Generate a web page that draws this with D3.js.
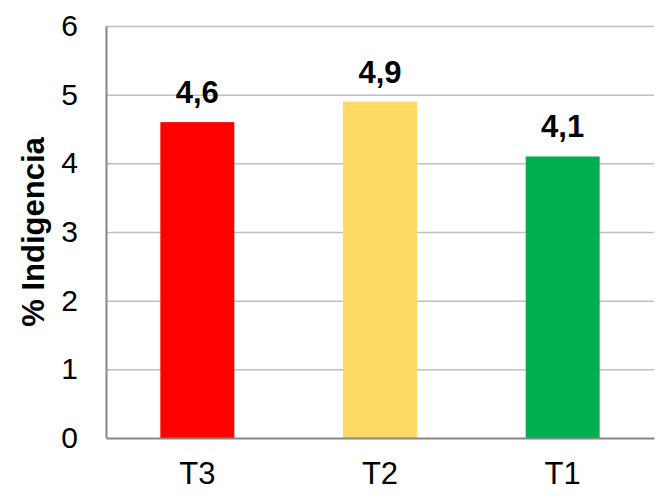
<!DOCTYPE html>
<html><head><meta charset="utf-8">
<script src="https://cdn.jsdelivr.net/npm/d3@7"></script>
<style>body{margin:0;background:#fff}svg{display:block;font-family:"Liberation Sans",Arial,sans-serif}</style>
</head><body><svg id="c" width="666" height="498"></svg>
<script>
const categories = ["T3","T2","T1"];
const values = [4.6,4.9,4.1];
const valueLabels = ["4,6","4,9","4,1"];
const colors = ["#FF0000","#FFD966","#00B050"];
const yTicks = [0,1,2,3,4,5,6];
const yTitle = "% Indigencia";

const svg = d3.select("#c");
const mL=106, mR=654, mT=26, mB=438;
const x = d3.scaleBand().domain(categories).range([mL,mR]).padding(0);
const y = d3.scaleLinear().domain([0,6]).range([mB,mT]);
const bw = x.bandwidth()*0.405;

// gridlines
svg.append("g").selectAll("line").data(yTicks.filter(d=>d>0)).join("line")
  .attr("x1",mL).attr("x2",mR).attr("y1",d=>y(d)+0.5).attr("y2",d=>y(d)+0.5)
  .attr("stroke","#c0c0c0").attr("stroke-width",1.5);

// bars
svg.append("g").selectAll("rect").data(categories).join("rect")
  .attr("x",(d)=>x(d)+x.bandwidth()/2-bw/2).attr("width",bw)
  .attr("y",(d,i)=>y(values[i])).attr("height",(d,i)=>y(0)-y(values[i]))
  .attr("fill",(d,i)=>colors[i]);

// axes
const ya = d3.axisLeft(y).tickValues(yTicks).tickFormat(d3.format("d")).tickSize(0).tickPadding(28);
const gy = svg.append("g").attr("transform",`translate(${mL},0)`).call(ya);
gy.select(".domain").attr("stroke","#868686").attr("stroke-width",2);
gy.selectAll("text").attr("font-size",30).attr("fill","#000").attr("font-family","Liberation Sans, Arial, sans-serif");

const xa = d3.axisBottom(x).tickSize(0).tickPadding(24);
const gx = svg.append("g").attr("transform",`translate(0,${mB})`).call(xa);
gx.select(".domain").attr("stroke","#868686").attr("stroke-width",2);
gx.selectAll("text").attr("font-size",31).attr("fill","#000").attr("font-family","Liberation Sans, Arial, sans-serif");

// value labels
svg.append("g").selectAll("text").data(categories).join("text")
  .attr("x",d=>x(d)+x.bandwidth()/2).attr("y",(d,i)=>y(values[i])-19)
  .attr("text-anchor","middle").attr("font-size",31).attr("font-weight","bold")
  .text((d,i)=>valueLabels[i]);

// y title
svg.append("text").attr("transform",`translate(44,${(mT+mB)/2}) rotate(-90)`)
  .attr("text-anchor","middle").attr("font-size",31).attr("font-weight","bold").text(yTitle);
</script></body></html>
